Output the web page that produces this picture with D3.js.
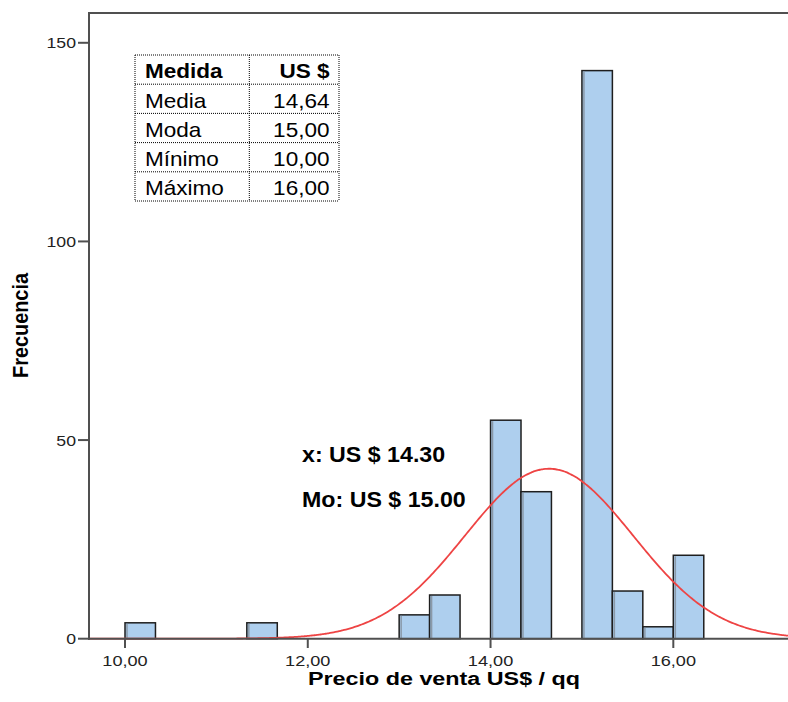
<!DOCTYPE html>
<html><head><meta charset="utf-8">
<script src="https://cdn.jsdelivr.net/npm/d3@7/dist/d3.min.js"></script>
<style>body{margin:0;background:#fff}svg{display:block;font-family:"Liberation Sans",Arial,sans-serif}</style>
</head><body>
<script>
// ---- data ----
const binStarts = [10.000, 11.333, 13.000, 13.333, 14.000, 14.333, 15.000, 15.333, 15.667, 16.000];
const frequencies = [4, 4, 6, 11, 55, 37, 143, 12, 3, 21];
const binWidth = 1 / 3;
const xTicks = [10, 12, 14, 16];
const xTickLabels = ["10,00", "12,00", "14,00", "16,00"];
const yTicks = [0, 50, 100, 150];
const curveMean = 14.64, curveSd = 0.92, curveN = 296;
const tableHeader = ["Medida", "US $"];
const tableLabels = ["Media", "Moda", "Mínimo", "Máximo"];
const tableValues = ["14,64", "15,00", "10,00", "16,00"];
const annotations = ["x: US $ 14.30", "Mo: US $ 15.00"];
const xTitle = "Precio de venta US$ / qq";
const yTitle = "Frecuencia";

const W = 788, H = 702;
const svg = d3.select("body").append("svg").attr("width", W).attr("height", H);
const x = d3.scaleLinear().domain([9.606, 17.255]).range([89, 788]);
const y = d3.scaleLinear().domain([0, 157.5]).range([638.7, 13]);
const SX = 1.12;
function txt(g, s, px, py, opt) {
  return g.append("text").attr("transform", `translate(${px},${py}) scale(${opt.sx||SX},1)` + (opt.rot ? " rotate(-90)" : ""))
    .attr("font-size", opt.size).attr("font-weight", opt.bold ? "bold" : "normal")
    .attr("text-anchor", opt.anchor || "start").attr("fill", "#000").text(s);
}

// bars
const bars = svg.append("g");
binStarts.forEach((b, i) => {
  const x0 = x(b), x1 = x(b + binWidth);
  bars.append("rect").attr("x", x0).attr("y", y(frequencies[i])).attr("width", x1 - x0)
    .attr("height", y(0) - y(frequencies[i])).attr("fill", "#aecfee").attr("stroke", "#1e1e1e").attr("stroke-width", 1.5);
  bars.append("line").attr("x1", x0 + 2).attr("x2", x0 + 2).attr("y1", y(frequencies[i]) + 1).attr("y2", y(0))
    .attr("stroke", "#8a99a8").attr("stroke-width", 1.5);
});

// normal curve
const pts = d3.range(0, 401).map(i => {
  const v = x.domain()[0] + (x.domain()[1] - x.domain()[0]) * i / 400;
  const d = curveN * binWidth / (curveSd * Math.sqrt(2 * Math.PI)) * Math.exp(-0.5 * ((v - curveMean) / curveSd) ** 2);
  return [v, d];
});
svg.append("path").datum(pts).attr("fill", "none").attr("stroke", "#ee4444").attr("stroke-width", 1.8)
  .attr("d", d3.line().x(d => x(d[0])).y(d => y(d[1])).curve(d3.curveBasis));

// frame / axes
const ax = svg.append("g").attr("stroke", "#505050").attr("stroke-width", 2);
ax.append("line").attr("x1", 89).attr("x2", 89).attr("y1", 12).attr("y2", 639.7);
ax.append("line").attr("x1", 88).attr("x2", 788).attr("y1", 13).attr("y2", 13);
ax.append("line").attr("x1", 88).attr("x2", 788).attr("y1", 638.7).attr("y2", 638.7);
yTicks.forEach(t => {
  ax.append("line").attr("x1", 78).attr("x2", 89).attr("y1", y(t)).attr("y2", y(t));
  txt(svg, String(t), 76, y(t) + 5.5, {size: 15.5, anchor: "end", sx: 1.14}).attr("fill", "#222");
});
xTicks.forEach((t, i) => {
  ax.append("line").attr("x1", x(t)).attr("x2", x(t)).attr("y1", 638.7).attr("y2", 648);
  txt(svg, xTickLabels[i], x(t), 665.5, {size: 15.5, anchor: "middle", sx: 1.17}).attr("fill", "#222");
});

// axis titles
svg.append("text").attr("transform", "translate(444,684.5)").attr("text-anchor", "middle").attr("font-size", 17.5)
  .attr("font-weight", "bold").attr("textLength", 272).attr("lengthAdjust", "spacingAndGlyphs").text(xTitle);
svg.append("text").attr("transform", `translate(28,325.5) scale(${SX},1) rotate(-90)`).attr("text-anchor", "middle")
  .attr("font-size", 20.5).attr("font-weight", "bold").attr("textLength", 105).attr("lengthAdjust", "spacingAndGlyphs").text(yTitle);

// annotations
txt(svg, annotations[0], 302, 462, {size: 21.5, bold: true, sx: 1.08});
txt(svg, annotations[1], 302, 506.7, {size: 21.5, bold: true, sx: 1.08});

// table
const tb = svg.append("g");
const tLeft = 135, tMid = 249.3, tRight = 339, tTop = 55, rowH = 29.2;
const nRows = tableLabels.length + 1;
const dash = {stroke: "#000", "stroke-width": 1, "stroke-dasharray": "1,1"};
function dl(x1, y1, x2, y2) {
  const l = tb.append("line").attr("x1", x1).attr("y1", y1).attr("x2", x2).attr("y2", y2);
  Object.entries(dash).forEach(([k, v]) => l.attr(k, v));
}
for (let r = 0; r <= nRows; r++) dl(tLeft, tTop + r * rowH, tRight, tTop + r * rowH);
[tLeft, tMid, tRight].forEach(cx => dl(cx, tTop, cx, tTop + nRows * rowH));
txt(tb, tableHeader[0], 145, 78.3, {size: 20.5, bold: true, sx: 1.1});
txt(tb, tableHeader[1], 329.5, 78.3, {size: 20.5, bold: true, anchor: "end", sx: 1.1});
tableLabels.forEach((lab, i) => {
  const by = 78.3 + (i + 1) * rowH;
  txt(tb, lab, 145, by, {size: 20.5, sx: 1.1});
  txt(tb, tableValues[i], 329.5, by, {size: 20.5, anchor: "end", sx: 1.1});
});
</script>
</body></html>
